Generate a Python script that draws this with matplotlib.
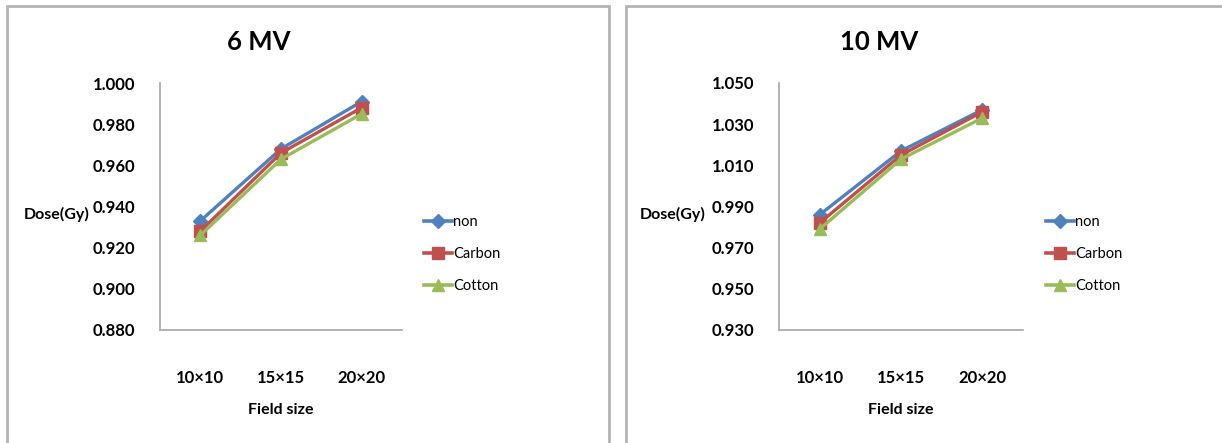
import matplotlib
matplotlib.use("Agg")
import matplotlib.pyplot as plt
from matplotlib.patches import Rectangle
from matplotlib.lines import Line2D

plt.rcParams['font.family'] = ['Lato', 'DejaVu Sans']

categories = ["10×10", "15×15", "20×20"]
series_names = ["non", "Carbon", "Cotton"]

mv6_non = [0.933, 0.968, 0.991]
mv6_carbon = [0.928, 0.966, 0.988]
mv6_cotton = [0.926, 0.963, 0.985]

mv10_non = [0.986, 1.017, 1.037]
mv10_carbon = [0.982, 1.015, 1.036]
mv10_cotton = [0.979, 1.013, 1.033]

mv6_ticks = [0.880, 0.900, 0.920, 0.940, 0.960, 0.980, 1.000]
mv10_ticks = [0.930, 0.950, 0.970, 0.990, 1.010, 1.030, 1.050]

colors = ["#4F81BD", "#C0504D", "#9BBB59"]
markers = ["D", "s", "^"]
msizes = [7, 8, 9]

W, H = 1222, 443
fig = plt.figure(figsize=(W / 100, H / 100), dpi=100)

def fx(px):
    return px / W

def fy(py):
    return 1 - py / H

# panel borders
for (x0, x1) in [(7, 609), (626, 1240)]:
    fig.patches.append(Rectangle((fx(x0), fy(460)), fx(x1 - x0), (460 - 6) / H,
                                 transform=fig.transFigure, fill=False,
                                 edgecolor="#b4b4b4", linewidth=2.0, zorder=0))

def make_panel(ax_left, ax_right, title, title_x, series, ticks,
               ylabel_x, legend_x):
    ax = fig.add_axes([fx(ax_left), fy(330), fx(ax_right - ax_left), (330 - 83) / H])
    x = list(range(len(categories)))
    for vals, name, c, m, ms in zip(series, series_names, colors, markers, msizes):
        ax.plot(x, vals, color=c, marker=m, markersize=ms, linewidth=2.4,
                label=name, markeredgecolor=c)
    ax.set_xlim(-0.5, len(categories) - 0.5)
    ax.set_ylim(ticks[0], ticks[-1])
    ax.set_yticks(ticks)
    ax.set_yticklabels([f"{t:.3f}" for t in ticks], fontsize=12, fontweight="bold")
    ax.set_xticks(x)
    ax.set_xticklabels(categories, fontsize=12, fontweight="bold")
    ax.tick_params(axis="both", length=0)
    ax.tick_params(axis="y", pad=18)
    ax.tick_params(axis="x", pad=29)
    for s in ["top", "right"]:
        ax.spines[s].set_visible(False)
    for s in ["left", "bottom"]:
        ax.spines[s].set_color("#a6a6a6")
        ax.spines[s].set_linewidth(1.2)
    fig.text(fx(title_x), fy(42), title, fontsize=18.5, fontweight="bold",
             ha="center", va="center")
    fig.text(fx(ylabel_x), fy(214), "Dose(Gy)", fontsize=11.5, fontweight="bold",
             ha="left", va="center")
    fig.text(fx((ax_left + ax_right) / 2), fy(410), "Field size", fontsize=11.5,
             fontweight="bold", ha="center", va="center")
    handles = [Line2D([], [], color=c, marker=m, markersize=ms, linewidth=2.6)
               for c, m, ms in zip(colors, markers, msizes)]
    fig.legend(handles, series_names, loc="center left",
               bbox_to_anchor=(fx(legend_x), fy(254)), frameon=False,
               fontsize=10.5, handlelength=1.9, handletextpad=0.1,
               labelspacing=1.25, borderaxespad=0, borderpad=0)
    return ax

make_panel(160, 402, "6 MV", 259, [mv6_non, mv6_carbon, mv6_cotton],
           mv6_ticks, 24, 424)
make_panel(779, 1023, "10 MV", 879, [mv10_non, mv10_carbon, mv10_cotton],
           mv10_ticks, 640, 1046)

fig.savefig("out.png", dpi=100)
